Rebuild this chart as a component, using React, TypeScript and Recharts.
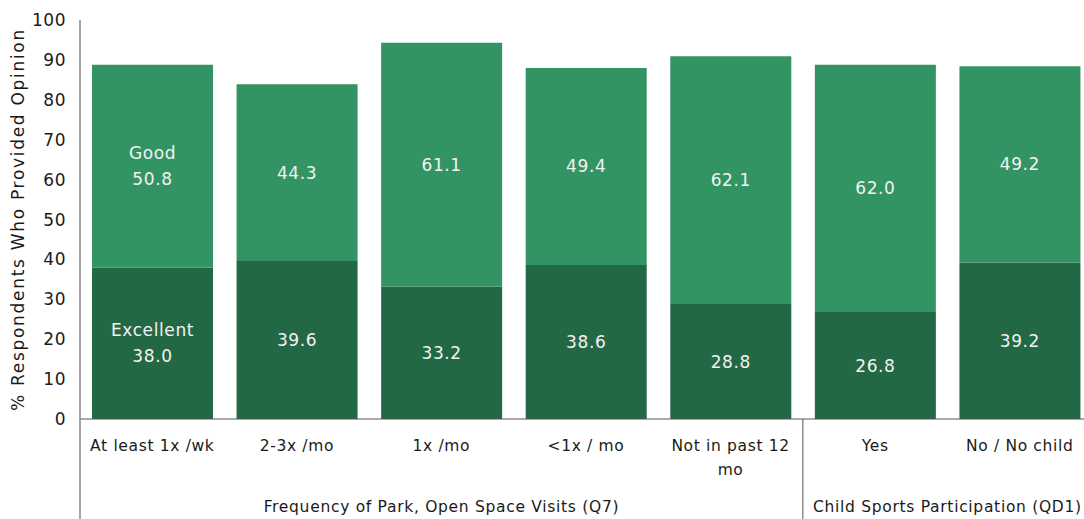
import { Bar, BarChart, LabelList, XAxis, YAxis } from 'recharts';

const categories = ['At least 1x /wk', '2-3x /mo', '1x /mo', '<1x / mo', 'Not in past 12 mo', 'Yes', 'No / No child'];
const excellent = [38.0, 39.6, 33.2, 38.6, 28.8, 26.8, 39.2];
const good = [50.8, 44.3, 61.1, 49.4, 62.1, 62.0, 49.2];
const groupLabels = ['Frequency of Park, Open Space Visits (Q7)', 'Child Sports Participation (QD1)'];
const groupSizes = [5, 2];
const yTicks = [0, 10, 20, 30, 40, 50, 60, 70, 80, 90, 100];

const data = categories.map((name, i) => ({ name, excellent: excellent[i], good: good[i] }));

const FONT = '"DejaVu Sans", Verdana, sans-serif';

// where each group begins
const groupStarts: number[] = [];
groupSizes.reduce((acc, n) => {
  groupStarts.push(acc);
  return acc + n;
}, 0);

const wrap = (s: string, max: number) => {
  const words = s.split(' ');
  const lines: string[] = [];
  let cur = '';
  words.forEach((w) => {
    const next = cur ? cur + ' ' + w : w;
    if (next.length > max && cur) {
      lines.push(cur);
      cur = w;
    } else cur = next;
  });
  if (cur) lines.push(cur);
  return lines;
};

const CategoryTick = (props: any) => {
  const { x, y, payload, index } = props;
  const half = payload && payload.offset ? payload.offset : 72;
  const lines = wrap(payload.value, 16);
  const g = groupStarts.indexOf(index);
  return (
    <g>
      <text x={x} y={y} textAnchor="middle" fontFamily={FONT} fontSize={15.5} letterSpacing={0.65} fill="#1a1a1a">
        {lines.map((l, k) => (
          <tspan key={k} x={x} dy={k === 0 ? 32 : 24}>{l}</tspan>
        ))}
      </text>
      {g >= 0 && (
        <>
          <line x1={x - half} x2={x - half} y1={y} y2={y + 100} stroke={g === 0 ? '#888' : '#555'} strokeWidth={g === 0 ? 1.5 : 1} />
          <text x={x + (groupSizes[g] - 1) * half} y={y + 93} textAnchor="middle" fontFamily={FONT} fontSize={15.5} letterSpacing={0.7} fill="#1a1a1a">
            {groupLabels[g]}
          </text>
        </>
      )}
    </g>
  );
};

const makeLabel = (series: string) => (props: any) => {
  const { x, y, width, height, value, index } = props;
  const cx = x + width / 2;
  const cy = y + height / 2;
  const txt = Number(value).toFixed(1);
  return (
    <text x={cx} y={cy} textAnchor="middle" fontFamily={FONT} fontSize={17} letterSpacing={0.6} fill="#f2f2f2">
      {index === 0 ? (
        <>
          <tspan x={cx} dy={-7}>{series}</tspan>
          <tspan x={cx} dy={26}>{txt}</tspan>
        </>
      ) : (
        <tspan x={cx} dy={6}>{txt}</tspan>
      )}
    </text>
  );
};

const AxisTitle = (props: any) => {
  const vb = props.viewBox || { x: 0, y: 20, width: 80, height: 399 };
  const cx = vb.x + 19;
  const cy = vb.y + vb.height / 2;
  return (
    <text transform={`translate(${cx},${cy}) rotate(-90)`} textAnchor="middle" dominantBaseline="middle" fontFamily={FONT} fontSize={17} letterSpacing={1.7} fill="#1a1a1a">
      % Respondents Who Provided Opinion
    </text>
  );
};

export default function App() {
  return (
    <div style={{ position: 'fixed', left: 0, top: 0, width: 1084, height: 519, overflow: 'hidden', background: '#fff' }}>
      <BarChart width={1100} height={519} data={data} margin={{ top: 20, right: 8, left: 0, bottom: 0 }} barCategoryGap={12}>
        <XAxis
          dataKey="name"
          height={100}
          interval={0}
          tickLine={false}
          tickSize={0}
          tickMargin={0}
          axisLine={{ stroke: '#555', strokeWidth: 1 }}
          tick={<CategoryTick />}
        />
        <YAxis
          width={80}
          domain={[0, 100]}
          ticks={yTicks}
          interval={0}
          tickLine={false}
          tickSize={0}
          tickMargin={14}
          axisLine={{ stroke: '#888', strokeWidth: 1.5 }}
          tick={{ fontFamily: FONT, fontSize: 17, letterSpacing: 0.5, fill: '#1a1a1a' }}
          label={{ content: <AxisTitle /> }}
        />
        <Bar dataKey="excellent" stackId="a" fill="#236844" isAnimationActive={false}>
          <LabelList dataKey="excellent" content={makeLabel('Excellent')} />
        </Bar>
        <Bar dataKey="good" stackId="a" fill="#339463" isAnimationActive={false}>
          <LabelList dataKey="good" content={makeLabel('Good')} />
        </Bar>
      </BarChart>
    </div>
  );
}
